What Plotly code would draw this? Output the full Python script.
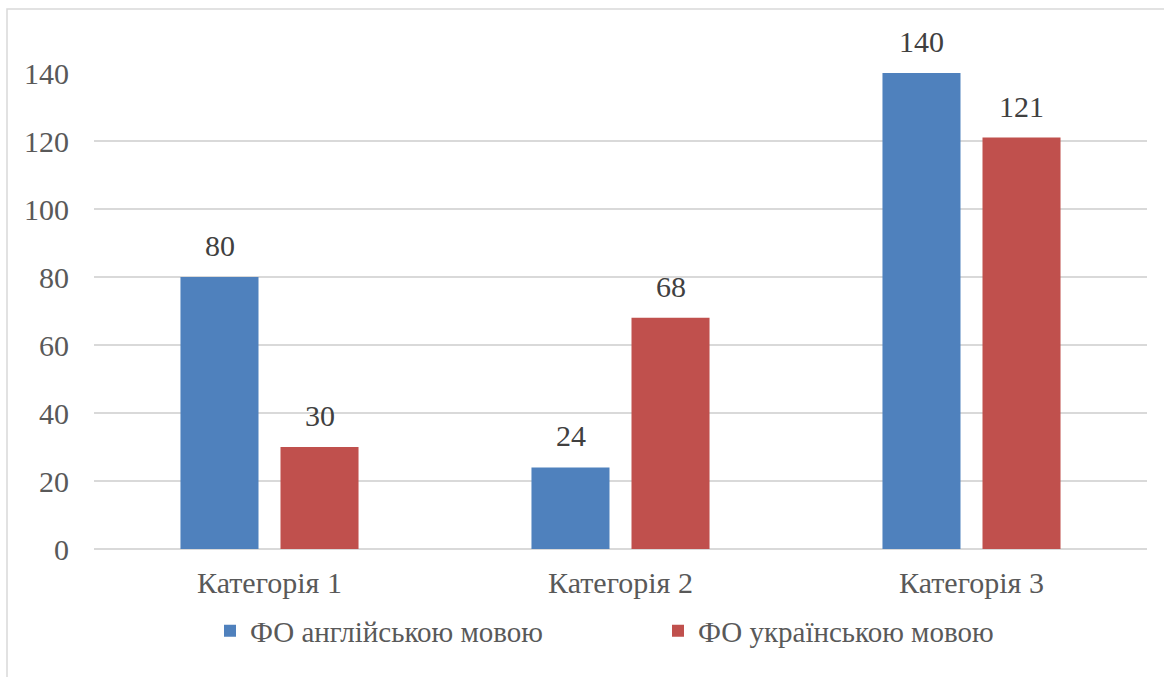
import plotly.graph_objects as go

categories = ["Категорія 1", "Категорія 2", "Категорія 3"]
series_names = ["ФО англійською мовою", "ФО українською мовою"]
values_en = [80, 24, 140]
values_uk = [30, 68, 121]
colors = ["#4F81BD", "#C0504D"]
y_ticks = [0, 20, 40, 60, 80, 100, 120, 140]

FONT = "'Liberation Serif', 'Times New Roman', 'DejaVu Serif', serif"
FS = 30

fig = go.Figure()
series = [values_en, values_uk]
for name, vals, col in zip(series_names, series, colors):
    fig.add_trace(go.Bar(
        x=categories, y=vals, name=name, marker=dict(color=col, line=dict(width=0)),
    ))

# data labels above bars
annotations = []
for i, vals in enumerate(series):
    for cat, v in zip(categories, vals):
        annotations.append(dict(
            x=cat, y=v, xref="x", yref="y", text=str(v), showarrow=False,
            xanchor="center", yanchor="bottom", xshift=(i - 0.5) * 100, yshift=13,
            font=dict(family=FONT, size=FS, color="#404040"),
        ))

W, H = 1164, 677
OFF = 0  # body margin removed via post_script
L, R, T, B = 94, 17, 73, 128
pw = W - L - R
ph = H - T - B

def px_to_paper_x(px):
    return (px - OFF - L) / pw

def py_to_paper_y(py):
    return (H - B + OFF - py) / ph

fig.update_layout(
    width=W, height=H,
    margin=dict(l=L, r=R, t=T, b=B),
    paper_bgcolor="white", plot_bgcolor="white",
    barmode="group", bargap=0.43, bargroupgap=0.22,
    font=dict(family=FONT, size=FS, color="#595959"),
    showlegend=True,
    legend=dict(
        orientation="h", x=px_to_paper_x(658), xanchor="center",
        y=py_to_paper_y(631), yanchor="middle",
        font=dict(family=FONT, size=29, color="#595959"),
        entrywidth=403, entrywidthmode="pixels",
        bgcolor="rgba(0,0,0,0)",
    ),
    xaxis=dict(showgrid=False, showline=False, ticks="", tickfont=dict(family=FONT, size=FS, color="#595959"),
               ticklabelstandoff=13),
    yaxis=dict(range=[0, 140], tickvals=y_ticks, showgrid=True, gridcolor="#D9D9D9", gridwidth=1.5,
               zeroline=True, zerolinecolor="#D9D9D9", zerolinewidth=1.5, showline=False, ticks="",
               tickfont=dict(family=FONT, size=FS, color="#595959"), ticklabelstandoff=24),
    annotations=annotations,
    shapes=[dict(type="rect", xref="paper", yref="paper",
                 x0=px_to_paper_x(7), x1=px_to_paper_x(1175),
                 y0=py_to_paper_y(695), y1=py_to_paper_y(9),
                 line=dict(color="#D9D9D9", width=1.5), fillcolor="rgba(0,0,0,0)", layer="below")],
)

fig.write_html("out.html", config={"displayModeBar": False},
               post_script="document.body.style.margin='0';")
